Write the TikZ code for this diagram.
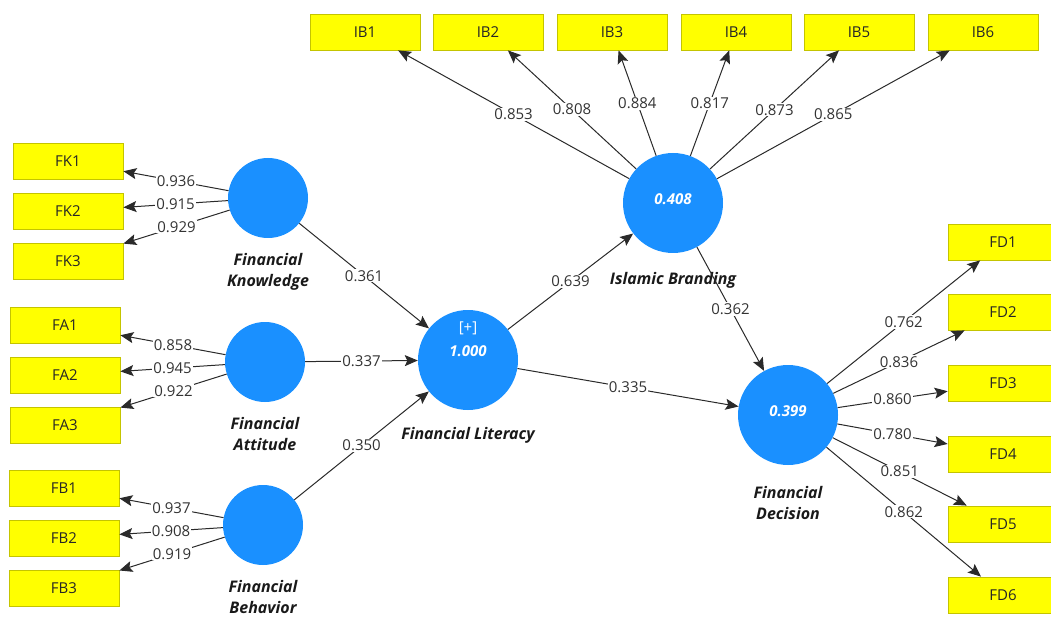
\documentclass[tikz,border=0pt]{standalone}
\usepackage{fontspec}
\setmainfont{Open Sans}
\usetikzlibrary{arrows.meta}
\definecolor{lvblue}{HTML}{1A90FF}
\definecolor{mvyellow}{HTML}{FFFF00}
\definecolor{mvborder}{HTML}{C4C400}
\definecolor{pathgray}{HTML}{2A2A2A}
\newcommand{\smallvarsize}{80pt}
\newcommand{\bigvarsize}{100pt}
\tikzstyle{latent}=[circle, fill=lvblue, draw=none, inner sep=0, minimum size=\smallvarsize,
                    text=white, font=\fontsize{15}{18}\selectfont\bfseries\itshape]
\tikzstyle{biglatent}=[latent, minimum size=\bigvarsize]
\tikzstyle{indicator}=[draw=mvborder, fill=mvyellow, line width=0.8pt, minimum width=110pt,
                       minimum height=36pt, inner sep=0, text=black!85, font=\fontsize{15}{18}\selectfont]
\tikzstyle{loading}=[draw=pathgray, line width=1pt, -{Stealth[length=13pt, width=11pt, inset=2.5pt]}]
\tikzstyle{weight}=[fill=white, inner sep=1pt, pos=0.5, text=black!80, font=\fontsize{15}{18}\selectfont]
\tikzstyle{lvname}=[align=center, text=black!90, font=\fontsize{16}{21}\selectfont\bfseries\itshape]

\begin{document}
\begin{tikzpicture}[x=1pt, y=-1pt]
    \useasboundingbox (0,0) rectangle (1051,617);
    % exogenous constructs
    \node[latent, label={[lvname, label distance=12pt]below:{Financial\\Knowledge}}] (FK) at (268,198) {};
    \node[latent, label={[lvname, label distance=12pt]below:{Financial\\Attitude}}] (FA) at (265,362) {};
    \node[latent, label={[lvname, label distance=12pt]below:{Financial\\Behavior}}] (FB) at (263,525) {};
    % endogenous constructs
    \node[biglatent, label={[text=white, font=\fontsize{15}{18}\selectfont, label distance=-29pt]above:{[+]}},
          label={[lvname, label distance=14pt]below:Financial Literacy}] (FL) at (468,360) {\raisebox{18pt}{1.000}};
    \node[biglatent, label={[lvname, label distance=16pt]below:Islamic Branding}] (IB) at (673,203) {\raisebox{8pt}{0.408}};
    \node[biglatent, label={[lvname, label distance=18pt]below:{Financial\\Decision}}] (FD) at (788,415) {\raisebox{8pt}{0.399}};

    % outer loadings
    \foreach \i/\y/\w in {1/161/0.936, 2/211/0.915, 3/261/0.929} {
        \node[indicator] (FK\i) at (68,\y) {FK\i};
        \draw[loading] (FK) -- node[weight] {\w} (FK\i);
    }
    \foreach \i/\y/\w in {1/325/0.858, 2/375/0.945, 3/425/0.922} {
        \node[indicator] (FA\i) at (65,\y) {FA\i};
        \draw[loading] (FA) -- node[weight] {\w} (FA\i);
    }
    \foreach \i/\y/\w in {1/488/0.937, 2/538/0.908, 3/588/0.919} {
        \node[indicator] (FB\i) at (64,\y) {FB\i};
        \draw[loading] (FB) -- node[weight] {\w} (FB\i);
    }
    \foreach \i/\x/\w in {1/365/0.853, 2/488/0.808, 3/612/0.884, 4/736/0.817, 5/859/0.873, 6/983/0.865} {
        \node[indicator] (IB\i) at (\x,32) {IB\i};
        \draw[loading] (IB) -- node[weight] {\w} (IB\i);
    }
    \foreach \i/\y/\w in {1/242/0.762, 2/312/0.836, 3/383/0.860, 4/454/0.780, 5/524/0.851, 6/595/0.862} {
        \node[indicator] (FD\i) at (1003,\y) {FD\i};
        \draw[loading] (FD) -- node[weight] {\w} (FD\i);
    }

    % inner model
    \draw[loading] (FK) -- node[weight] {0.361} (FL);
    \draw[loading] (FA) -- node[weight] {0.337} (FL);
    \draw[loading] (FB) -- node[weight] {0.350} (FL);
    \draw[loading] (FL) -- node[weight] {0.639} (IB);
    \draw[loading] (FL) -- node[weight] {0.335} (FD);
    \draw[loading] (IB) -- node[weight] {0.362} (FD);
\end{tikzpicture}
\end{document}
